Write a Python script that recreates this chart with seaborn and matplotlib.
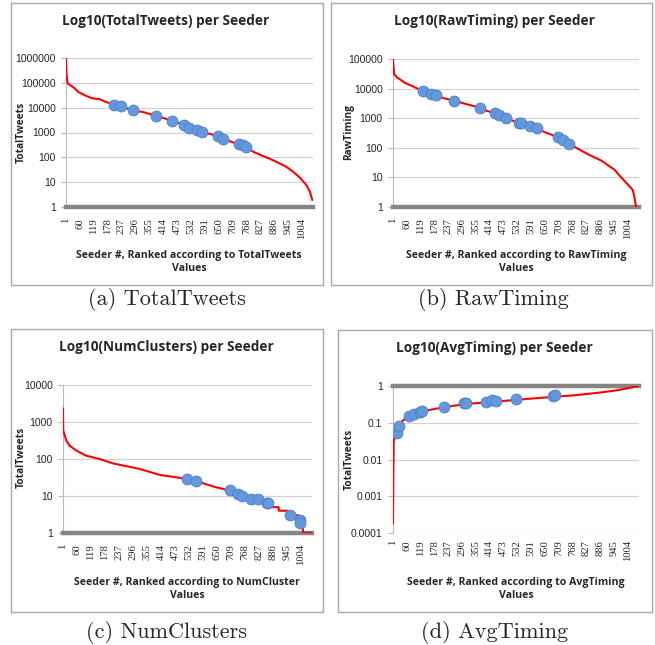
"""Four ranked-seeder panels (log y), recreated with seaborn."""
import matplotlib
matplotlib.use("Agg")
import matplotlib.pyplot as plt
from matplotlib.patches import Rectangle
from matplotlib.ticker import NullLocator
import seaborn as sns

W, H = 655, 645  # figure size in pixels (dpi 100)

# shared x ticks (Excel category labels)
X_TICKS = [1, 60, 119, 178, 237, 296, 355, 414, 473, 532, 591, 650, 709, 768, 827, 886, 945, 1004]
N_SEEDERS = 1052

# (a) TotalTweets
TT_RANK = [1, 3, 8, 33, 55, 83, 111, 144, 175, 207, 233, 287, 331, 382, 402, 451, 502, 526,
           558, 580, 647, 671, 735, 756, 767, 800, 827, 862, 898, 940, 968, 997, 1025, 1039, 1049]
TT_VALUE = [950000, 230000, 95000, 66000, 42000, 31000, 24000, 22000, 16500, 13400, 11400, 7700,
            6600, 4700, 4200, 3000, 2050, 1550, 1250, 1070, 715, 560, 330, 300, 255, 165, 126,
            93, 65, 41, 26, 15, 7.4, 4.1, 1.9]
TT_MARK_RANK = [207, 233, 287, 382, 451, 502, 526, 558, 580, 647, 671, 735, 756, 767]
TT_MARK_VALUE = [13400, 11500, 7700, 4700, 3000, 2050, 1550, 1250, 1070, 715, 560, 330, 300, 250]

# (b) RawTiming
RT_RANK = [1, 6, 18, 53, 88, 130, 164, 184, 201, 261, 314, 371, 398, 438, 455, 483, 511, 539,
           548, 586, 616, 652, 706, 726, 754, 779, 835, 891, 948, 976, 1004, 1025, 1032, 1039, 1041]
RT_VALUE = [95000, 31000, 24000, 15500, 11700, 8100, 6600, 6100, 5100, 3950, 3000, 2290, 1800,
            1470, 1290, 1000, 830, 700, 680, 550, 450, 330, 230, 186, 130, 105, 60, 37, 18, 10,
            5.8, 3.8, 2.3, 1.05, 1.0]
RT_MARK_RANK = [130, 164, 184, 261, 371, 438, 455, 483, 539, 548, 586, 616, 706, 726, 754]
RT_MARK_VALUE = [8100, 6600, 6100, 3950, 2290, 1470, 1290, 1000, 700, 680, 550, 450, 230, 186, 130]

# (c) NumClusters
NC_RANK = [1, 2, 15, 29, 57, 99, 156, 212, 325, 410, 495, 524, 562, 636, 704, 738, 757, 795,
           823, 850, 862, 863, 911, 912, 948, 949, 995, 996, 1013, 1014, 1052]
NC_VALUE = [2340, 590, 316, 229, 170, 123, 100, 76, 54, 37, 31, 28, 25.5, 18, 14, 11.3, 10.2,
            8.5, 8, 7, 6, 5, 5, 4, 4, 3, 3, 2, 2, 1, 1]
NC_MARK_RANK = [524, 562, 704, 738, 757, 795, 823, 860, 867, 961, 1003, 1003]
NC_MARK_VALUE = [28.3, 25.9, 14.2, 11.3, 10.2, 8.5, 8.1, 6.5, 6.6, 3.06, 2.24, 1.86]

# (d) AvgTiming
AT_RANK = [1, 2, 4, 10, 18, 25, 40, 70, 91, 126, 219, 314, 441, 525, 683, 779, 891, 962,
           1004, 1040, 1052]
AT_VALUE = [0.00018, 0.002, 0.03, 0.047, 0.056, 0.08, 0.11, 0.155, 0.175, 0.205, 0.265, 0.325,
            0.375, 0.42, 0.505, 0.56, 0.67, 0.77, 0.87, 0.98, 1.0]
AT_MARK_RANK = [18, 25, 70, 91, 116, 126, 219, 304, 314, 398, 422, 442, 525, 683, 691]
AT_MARK_VALUE = [0.054, 0.082, 0.157, 0.178, 0.193, 0.21, 0.27, 0.339, 0.339, 0.36, 0.41,
                 0.38, 0.43, 0.525, 0.57]

Y_TICKS_A = [1, 10, 100, 1000, 10000, 100000, 1000000]
Y_LABELS_A = ["1", "10", "100", "1000", "10000", "100000", "1000000"]
Y_TICKS_B = [1, 10, 100, 1000, 10000, 100000]
Y_LABELS_B = ["1", "10", "100", "1000", "10000", "100000"]
Y_TICKS_C = [1, 10, 100, 1000, 10000]
Y_LABELS_C = ["1", "10", "100", "1000", "10000"]
Y_TICKS_D = [0.0001, 0.001, 0.01, 0.1, 1]
Y_LABELS_D = ["0.0001", "0.001", "0.01", "0.1", "1"]

sns.set_style("white")
plt.rcParams["font.family"] = ["Open Sans", "DejaVu Sans"]

# box, axes area, title xy, ylabel xy, xlabel xy, caption xy  (pixels, top-left origin)
PANELS = [
    dict(rank=TT_RANK, value=TT_VALUE, mrank=TT_MARK_RANK, mvalue=TT_MARK_VALUE,
         yticks=Y_TICKS_A, ylabels=Y_LABELS_A, top=False,
         title="Log10(TotalTweets) per Seeder", ylabel="TotalTweets",
         xlabel="Seeder #, Ranked according to TotalTweets\nValues", caption="(a) TotalTweets",
         box=(11, 3, 323, 285), area=(66, 58, 313, 207),
         t=(166, 21), yl=(21, 132), xl=(189, 262), cap=(167, 300)),
    dict(rank=RT_RANK, value=RT_VALUE, mrank=RT_MARK_RANK, mvalue=RT_MARK_VALUE,
         yticks=Y_TICKS_B, ylabels=Y_LABELS_B, top=False,
         title="Log10(RawTiming) per Seeder", ylabel="RawTiming",
         xlabel="Seeder #, Ranked according to RawTiming\nValues", caption="(b) RawTiming",
         box=(331, 3, 652, 285), area=(393, 59, 639, 207),
         t=(494, 21), yl=(349, 132), xl=(516, 262), cap=(493, 300)),
    dict(rank=NC_RANK, value=NC_VALUE, mrank=NC_MARK_RANK, mvalue=NC_MARK_VALUE,
         yticks=Y_TICKS_C, ylabels=Y_LABELS_C, top=False,
         title="Log10(NumClusters) per Seeder", ylabel="TotalTweets",
         xlabel="Seeder #, Ranked according to NumCluster\nValues", caption="(c) NumClusters",
         box=(11, 329, 323, 612), area=(63, 385, 312, 533),
         t=(166, 347), yl=(21, 457), xl=(187, 589), cap=(167, 632)),
    dict(rank=AT_RANK, value=AT_VALUE, mrank=AT_MARK_RANK, mvalue=AT_MARK_VALUE,
         yticks=Y_TICKS_D, ylabels=Y_LABELS_D, top=True,
         title="Log10(AvgTiming) per Seeder", ylabel="TotalTweets",
         xlabel="Seeder #, Ranked according to AvgTiming\nValues", caption="(d) AvgTiming",
         box=(338, 330, 652, 612), area=(393, 386, 639, 533),
         t=(494, 348), yl=(349, 459), xl=(516, 589), cap=(495, 632)),
]


def fx(x):
    return x / W


def fy(y):
    return 1 - y / H


fig = plt.figure(figsize=(W / 100, H / 100), dpi=100)

for p in PANELS:
    x0, y0, x1, y1 = p["box"]
    fig.patches.append(Rectangle((fx(x0), fy(y1)), fx(x1 - x0), (y1 - y0) / H,
                                 transform=fig.transFigure, fill=False,
                                 edgecolor="#A8A8A8", lw=1.0))
    a0, b0, a1, b1 = p["area"]
    ax = fig.add_axes([fx(a0), fy(b1), fx(a1 - a0), (b1 - b0) / H])
    ax.set_yscale("log")

    sns.lineplot(x=p["rank"], y=p["value"], ax=ax, color="#FF0000", lw=1.5,
                 sort=False, estimator=None, zorder=3)
    sns.scatterplot(x=p["mrank"], y=p["mvalue"], ax=ax, s=62, color="#6497DD",
                    edgecolor="#4F80C6", linewidth=0.6, zorder=4)

    ax.set_xlim(1, N_SEEDERS)
    ax.set_ylim(p["yticks"][0], p["yticks"][-1])
    ax.set_yticks(p["yticks"], labels=p["ylabels"], fontsize=7.5, fontfamily="Liberation Sans")
    ax.yaxis.set_minor_locator(NullLocator())
    ax.set_xticks(X_TICKS, labels=[str(t) for t in X_TICKS], rotation=90, fontsize=7.6,
                  fontfamily="Liberation Serif")
    ax.tick_params(axis="x", length=0, pad=5 if p["top"] else 8)
    ax.tick_params(axis="y", length=3.5, width=0.8, color="#B8B8B8", pad=4, left=True)
    ax.set_xlabel("")
    ax.set_ylabel("")
    ax.yaxis.grid(True, color="#D3D3D3", lw=0.9)
    ax.set_axisbelow(True)

    for side in ("top", "right", "bottom"):
        ax.spines[side].set_visible(False)
    ax.spines["left"].set_color("#B8B8B8")
    ax.spines["left"].set_linewidth(0.8)
    bar = "top" if p["top"] else "bottom"
    ax.spines[bar].set_visible(True)
    ax.spines[bar].set_color("#858585")
    ax.spines[bar].set_linewidth(3.2)
    ax.spines[bar].set_zorder(2.5)

    fig.text(fx(p["t"][0]), fy(p["t"][1]), p["title"], ha="center", va="center",
             fontsize=9.8, fontweight="bold")
    fig.text(fx(p["yl"][0]), fy(p["yl"][1]), p["ylabel"], ha="center", va="center",
             rotation=90, fontsize=7.3, fontweight="bold")
    fig.text(fx(p["xl"][0]), fy(p["xl"][1]), p["xlabel"], ha="center", va="center",
             fontsize=7.6, fontweight="bold", linespacing=1.35)
    fig.text(fx(p["cap"][0]), fy(p["cap"][1]), p["caption"], ha="center", va="center",
             fontsize=16, fontfamily="cmr10")

fig.savefig("out.png", dpi=100)
